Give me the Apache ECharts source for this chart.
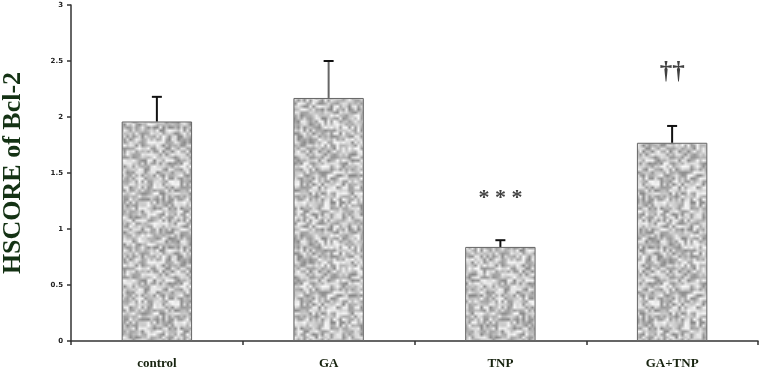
<!DOCTYPE html>
<html>
<head>
<meta charset="utf-8">
<script src="https://cdn.jsdelivr.net/npm/echarts@6/dist/echarts.min.js"></script>
<style>
  html, body { margin: 0; padding: 0; background: #fff; }
  #main { width: 759px; height: 374px; }
</style>
</head>
<body>
<div id="main"></div>
<script>
var categories = ['control', 'GA', 'TNP', 'GA+TNP'];
var values = [1.96, 2.17, 0.84, 1.77];
var errors = [0.22, 0.33, 0.06, 0.15];
var marks = ['', '', '* * *', '\u2020\u2020'];
var markY = [null, null, 1.27, 2.40];
var yTicks = [0, 0.5, 1, 1.5, 2, 2.5, 3];

// speckled grey fill, deterministic noise, coarse grain, seamless
function speckle() {
  var n = 40, k = 3;
  var c = document.createElement('canvas');
  c.width = n * 3; c.height = n * 3;
  var ctx = c.getContext('2d');
  var img = ctx.createImageData(n, n);
  var s = 98765;
  for (var i = 0; i < n * n; i++) {
    s = (s * 1103515245 + 12345) & 0x7fffffff;
    var v = 135 + ((s >> 8) % 115);
    img.data[i * 4] = v; img.data[i * 4 + 1] = v; img.data[i * 4 + 2] = v; img.data[i * 4 + 3] = 255;
  }
  for (var a = 0; a < 3; a++) {
    for (var b = 0; b < 3; b++) ctx.putImageData(img, a * n, b * n);
  }
  var big = document.createElement('canvas');
  big.width = n * 3 * k; big.height = n * 3 * k;
  var bctx = big.getContext('2d');
  bctx.imageSmoothingEnabled = true;
  bctx.drawImage(c, 0, 0, big.width, big.height);
  var out = document.createElement('canvas');
  out.width = n * k; out.height = n * k;
  out.getContext('2d').drawImage(big, n * k, n * k, n * k, n * k, 0, 0, n * k, n * k);
  return out;
}

var errData = values.map(function (v, i) { return [i, v, v + errors[i]]; });
var markData = markY.map(function (y, i) {
  return y === null ? null : { value: [i, y], label: { formatter: marks[i], fontSize: i === 3 ? 25 : 22 } };
}).filter(Boolean);

var myChart = echarts.init(document.getElementById('main'));
myChart.setOption({
  animation: false,
  grid: { left: 71, right: 1, top: 5, bottom: 33, outerBoundsMode: 'none' },
  xAxis: {
    type: 'category',
    data: categories,
    axisLine: { lineStyle: { color: '#333', width: 1.5 } },
    axisTick: { show: true, length: 4, lineStyle: { color: '#333', width: 1.5 } },
    axisLabel: {
      margin: 16,
      fontFamily: 'Liberation Serif',
      fontWeight: 'bold',
      fontSize: 13,
      color: '#17230f'
    }
  },
  yAxis: {
    type: 'value',
    min: yTicks[0],
    max: yTicks[yTicks.length - 1],
    interval: 0.5,
    name: 'HSCORE of Bcl-2',
    nameLocation: 'middle',
    nameGap: 45,
    nameTextStyle: {
      fontFamily: 'Liberation Serif',
      fontWeight: 'bold',
      fontSize: 26,
      color: '#143214'
    },
    splitLine: { show: false },
    axisLine: { show: true, lineStyle: { color: '#333', width: 1.5 } },
    axisTick: { show: true, length: 4, lineStyle: { color: '#333', width: 1.5 } },
    axisLabel: {
      margin: 8,
      fontFamily: 'DejaVu Sans',
      fontWeight: 'bold',
      fontSize: 7,
      color: '#222'
    }
  },
  series: [
    {
      type: 'bar',
      data: values,
      barWidth: '41%',
      itemStyle: {
        color: { image: speckle(), repeat: 'repeat' },
        borderColor: '#666',
        borderWidth: 1
      }
    },
    {
      type: 'custom',
      data: errData,
      z: 5,
      renderItem: function (params, api) {
        var x = api.coord([api.value(0), api.value(1)]);
        var t = api.coord([api.value(0), api.value(2)]);
        var col = params.dataIndex === 1 ? '#666' : '#111';
        return {
          type: 'group',
          children: [
            { type: 'line', shape: { x1: x[0], y1: x[1], x2: t[0], y2: t[1] }, style: { stroke: col, lineWidth: 2 } },
            { type: 'line', shape: { x1: t[0] - 5, y1: t[1], x2: t[0] + 5, y2: t[1] }, style: { stroke: '#111', lineWidth: 2 } }
          ]
        };
      }
    },
    {
      type: 'scatter',
      data: markData,
      symbolSize: 0,
      label: {
        show: true,
        position: 'inside',
        fontFamily: 'Liberation Serif',
        fontWeight: 'bold',
        color: '#111'
      }
    }
  ]
});
</script>
</body>
</html>
